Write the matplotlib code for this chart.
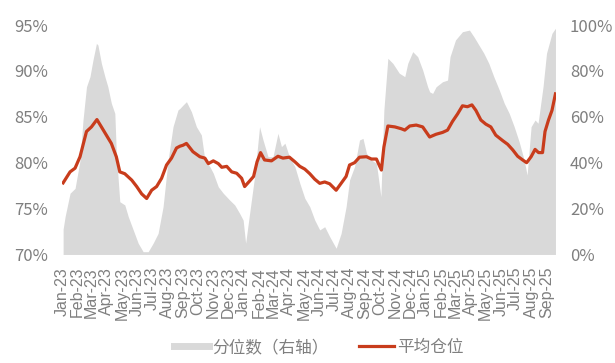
import numpy as np
import pandas as pd
import matplotlib
matplotlib.use("Agg")
import matplotlib.pyplot as plt
import matplotlib.dates as mdates
from matplotlib.ticker import FuncFormatter, MultipleLocator
from matplotlib.lines import Line2D

plt.rcParams['font.family'] = ['Noto Sans CJK SC', 'DejaVu Sans']

# average position (left axis, %)
pos_dates = [
    "2023-01-03", "2023-01-17", "2023-01-27", "2023-02-06", "2023-02-19", "2023-03-01",
    "2023-03-12", "2023-03-21", "2023-03-31", "2023-04-10", "2023-04-20", "2023-04-27",
    "2023-05-07", "2023-05-21", "2023-05-31", "2023-06-10", "2023-06-20", "2023-06-30",
    "2023-07-10", "2023-07-20", "2023-07-30", "2023-08-09", "2023-08-19", "2023-08-26",
    "2023-09-01", "2023-09-08", "2023-09-21", "2023-10-05", "2023-10-15", "2023-10-22",
    "2023-11-01", "2023-11-11", "2023-11-18", "2023-11-28", "2023-12-08", "2023-12-18",
    "2023-12-28", "2024-01-03", "2024-01-13", "2024-01-21", "2024-01-28", "2024-02-04",
    "2024-02-12", "2024-02-26", "2024-03-10", "2024-03-20", "2024-04-02", "2024-04-13",
    "2024-04-23", "2024-05-03", "2024-05-13", "2024-05-23", "2024-06-02", "2024-06-12",
    "2024-06-22", "2024-07-05", "2024-07-15", "2024-07-25", "2024-08-01", "2024-08-11",
    "2024-08-21", "2024-09-04", "2024-09-14", "2024-09-24", "2024-10-04", "2024-10-09",
    "2024-10-17", "2024-10-31", "2024-11-13", "2024-11-20", "2024-11-30", "2024-12-13",
    "2024-12-26", "2025-01-09", "2025-01-22", "2025-02-04", "2025-02-14", "2025-02-24",
    "2025-03-06", "2025-03-16", "2025-03-26", "2025-04-04", "2025-04-12", "2025-04-22",
    "2025-05-02", "2025-05-12", "2025-05-22", "2025-06-05", "2025-06-15", "2025-06-25",
    "2025-07-05", "2025-07-15", "2025-07-23", "2025-08-01", "2025-08-09", "2025-08-16",
    "2025-08-24", "2025-08-29", "2025-09-05", "2025-09-12", "2025-09-19",
]
pos_values = [
    77.8, 79.0, 79.4, 80.65, 83.4, 83.9,
    84.7, 83.9, 83.0, 82.1, 80.65, 79.0,
    78.8, 78.1, 77.4, 76.6, 76.1, 77.0,
    77.4, 78.3, 79.75, 80.5, 81.6, 81.8,
    81.9, 82.1, 81.2, 80.65, 80.5, 79.9,
    80.2, 79.9, 79.5, 79.6, 79.0, 78.85,
    78.3, 77.4, 78.0, 78.5, 80.1, 81.1,
    80.3, 80.2, 80.7, 80.5, 80.6, 80.1,
    79.6, 79.3, 78.8, 78.2, 77.75, 77.9,
    77.7, 77.0, 77.75, 78.5, 79.75, 80.0,
    80.6, 80.65, 80.4, 80.4, 79.2, 81.7,
    84.0, 83.9, 83.7, 83.55, 84.0, 84.1,
    83.9, 82.8, 83.1, 83.3, 83.55, 84.5,
    85.3, 86.2, 86.1, 86.3, 85.7, 84.65,
    84.2, 83.9, 83.0, 82.4, 82.0, 81.4,
    80.7, 80.3, 80.0, 80.65, 81.45, 81.1,
    81.1, 83.4, 84.65, 85.7, 87.5,
]

# percentile (right axis, %)
pct_dates = [
    "2023-01-03", "2023-01-07", "2023-01-17", "2023-01-27", "2023-02-06", "2023-02-12",
    "2023-02-19", "2023-02-26", "2023-03-04", "2023-03-11", "2023-03-14", "2023-03-21",
    "2023-03-28", "2023-04-03", "2023-04-10", "2023-04-17", "2023-04-20", "2023-04-27",
    "2023-05-07", "2023-05-14", "2023-05-24", "2023-06-03", "2023-06-13", "2023-06-23",
    "2023-07-03", "2023-07-13", "2023-07-23", "2023-08-02", "2023-08-12", "2023-08-22",
    "2023-08-26", "2023-09-01", "2023-09-08", "2023-09-18", "2023-09-28", "2023-10-08",
    "2023-10-15", "2023-10-25", "2023-11-01", "2023-11-11", "2023-11-21", "2023-12-04",
    "2023-12-14", "2023-12-24", "2023-12-31", "2024-01-05", "2024-01-13", "2024-01-23",
    "2024-02-02", "2024-02-09", "2024-02-19", "2024-02-29", "2024-03-10", "2024-03-17",
    "2024-03-24", "2024-04-02", "2024-04-13", "2024-04-23", "2024-05-03", "2024-05-13",
    "2024-05-23", "2024-06-02", "2024-06-12", "2024-06-22", "2024-07-05", "2024-07-15",
    "2024-07-25", "2024-08-01", "2024-08-11", "2024-08-21", "2024-08-28", "2024-09-04",
    "2024-09-14", "2024-09-24", "2024-10-03", "2024-10-09", "2024-10-17", "2024-10-27",
    "2024-11-09", "2024-11-20", "2024-11-26", "2024-12-06", "2024-12-16", "2024-12-26",
    "2025-01-05", "2025-01-09", "2025-01-15", "2025-01-22", "2025-02-04", "2025-02-14",
    "2025-02-19", "2025-03-02", "2025-03-16", "2025-03-30", "2025-04-08", "2025-04-18",
    "2025-04-28", "2025-05-08", "2025-05-18", "2025-05-29", "2025-06-08", "2025-06-18",
    "2025-06-28", "2025-07-08", "2025-07-18", "2025-07-24", "2025-08-01", "2025-08-09",
    "2025-08-15", "2025-08-25", "2025-09-01", "2025-09-12", "2025-09-19",
]
pct_values = [
    11, 16.5, 26.7, 28.8, 41, 58.6,
    73.1, 77.5, 84.7, 92, 91.3, 83.3,
    77.5, 73.1, 65.9, 61.5, 44.1, 23,
    21.6, 16.5, 10.7, 4.9, 1.2, 1.2,
    4.9, 9.2, 20.8, 41, 55.7, 63,
    63.7, 65.1, 66.6, 62.2, 55.7, 52.1,
    41.2, 38.3, 35.4, 29.5, 26.7, 23.7,
    21.6, 17.9, 15, 4.9, 17.9, 33.9,
    55.7, 49.9, 42.6, 42.6, 52.8, 47,
    48.5, 42.6, 38.3, 31, 24.5, 20.8,
    15, 10.7, 12.1, 7.8, 2.7, 9.2,
    20.8, 32.5, 38.3, 49.9, 50.6, 44.1,
    41.2, 39.7, 25.2, 63, 85.5, 83.3,
    79, 77.5, 83.3, 88.4, 86.2, 80.4,
    73.1, 70.9, 70.2, 73.1, 75.3, 76,
    86.2, 93.5, 97.1, 97.8, 94.9, 91.3,
    87.7, 83.3, 77.5, 71.7, 65.9, 61.5,
    55.7, 49.1, 41.2, 34.6, 55.7, 58.6,
    57.2, 73.1, 87.7, 96.4, 98.6,
]

pos = pd.Series(pos_values, index=pd.to_datetime(pos_dates))
pct = pd.Series(pct_values, index=pd.to_datetime(pct_dates))

gray = "#d9d9d9"
red = "#c83c1c"
txt = "#7f7f7f"

fig = plt.figure(figsize=(6.15, 3.63), dpi=100)
ax = fig.add_axes([0.101, 0.299, 0.803, 0.632])
ax2 = ax.twinx()

# area on the right axis, drawn behind the line
ax2.fill_between(pct.index, 0, pct.values, color=gray, linewidth=0, zorder=1)
ax2.set_ylim(0, 100)
ax2.yaxis.set_major_locator(MultipleLocator(20))
ax2.yaxis.set_major_formatter(FuncFormatter(lambda v, p: f"{v:.0f}%"))

ax.plot(pos.index, pos.values, color=red, linewidth=2.3, zorder=3)
ax.set_ylim(70, 95)
ax.yaxis.set_major_locator(MultipleLocator(5))
ax.yaxis.set_major_formatter(FuncFormatter(lambda v, p: f"{v:.0f}%"))

# line on top of the area
ax.set_zorder(ax2.get_zorder() + 1)
ax.patch.set_visible(False)

ax.set_xlim(pd.Timestamp("2023-01-01"), pd.Timestamp("2025-09-20"))
ax.xaxis.set_major_locator(mdates.MonthLocator())
ax.xaxis.set_major_formatter(mdates.DateFormatter("%b-%y"))

for a in (ax, ax2):
    for s in a.spines.values():
        s.set_visible(False)
    a.tick_params(length=0, colors=txt, labelsize=12)
ax.tick_params(axis="x", labelrotation=90, pad=9)
for lab in ax.get_xticklabels():
    lab.set_fontfamily("Liberation Sans")
    lab.set_fontsize(11.5)
ax.tick_params(axis="y", pad=10)
ax2.tick_params(axis="y", pad=10)

handles = [Line2D([0], [0], color=gray, linewidth=5),
           Line2D([0], [0], color=red, linewidth=2.3)]
fig.legend(handles, ["分位数（右轴）", "平均仓位"], loc="center",
           bbox_to_anchor=(0.518, 0.042), ncol=2, frameon=False,
           fontsize=12, labelcolor=txt, handlelength=2.1,
           handletextpad=0.2, columnspacing=1.8)

fig.savefig("out.png", dpi=100)
plt.close(fig)
